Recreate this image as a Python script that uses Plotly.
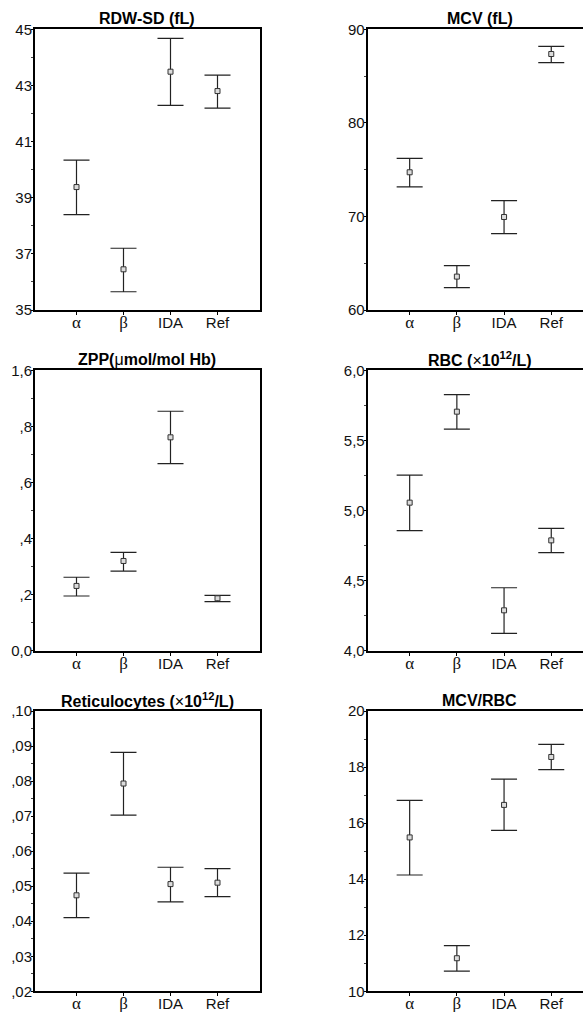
import plotly.graph_objects as go

# ---------------- data ----------------
groups = ["α", "β", "IDA", "Ref"]

rdw_mean = [39.38, 36.45, 43.49, 42.80]
rdw_upper = [40.34, 37.20, 44.68, 43.37]
rdw_lower = [38.40, 35.65, 42.29, 42.19]

mcv_mean = [74.72, 63.57, 69.94, 87.36]
mcv_upper = [76.21, 64.74, 71.69, 88.18]
mcv_lower = [73.15, 62.39, 68.16, 86.44]

zpp_mean = [0.231, 0.320, 0.761, 0.187]
zpp_upper = [0.262, 0.351, 0.854, 0.197]
zpp_lower = [0.195, 0.284, 0.667, 0.175]

rbc_mean = [5.056, 5.705, 4.288, 4.787]
rbc_upper = [5.253, 5.826, 4.449, 4.873]
rbc_lower = [4.856, 5.581, 4.124, 4.699]

ret_mean = [0.0474, 0.0793, 0.0506, 0.0510]
ret_upper = [0.0537, 0.0882, 0.0554, 0.0550]
ret_lower = [0.0410, 0.0703, 0.0455, 0.0470]

ratio_mean = [15.49, 11.18, 16.65, 18.36]
ratio_upper = [16.81, 11.63, 17.57, 18.81]
ratio_lower = [14.15, 10.72, 15.74, 17.91]

titles = ["RDW-SD (fL)", "MCV (fL)", "ZPP(<span style=\"font-weight:normal\">μ</span>mol/mol Hb)",
          "RBC (<span style=\"font-weight:normal\">×</span>10<sup>12</sup>/L)",
          "Reticulocytes (<span style=\"font-weight:normal\">×</span>10<sup>12</sup>/L)", "MCV/RBC"]

rdw_ticks = [35, 37, 39, 41, 43, 45]
rdw_ticktext = ["35", "37", "39", "41", "43", "45"]
mcv_ticks = [60, 70, 80, 90]
mcv_ticktext = ["60", "70", "80", "90"]
zpp_ticks = [0.0, 0.2, 0.4, 0.6, 0.8, 1.0]
zpp_ticktext = ["0,0", ",2", ",4", ",6", ",8", "1,6"]
rbc_ticks = [4.0, 4.5, 5.0, 5.5, 6.0]
rbc_ticktext = ["4,0", "4,5", "5,0", "5,5", "6,0"]
ret_ticks = [0.02, 0.03, 0.04, 0.05, 0.06, 0.07, 0.08, 0.09, 0.10]
ret_ticktext = [",02", ",03", ",04", ",05", ",06", ",07", ",08", ",09", ",10"]
ratio_ticks = [10, 12, 14, 16, 18, 20]
ratio_ticktext = ["10", "12", "14", "16", "18", "20"]

# ---------------- layout geometry ----------------
W, H = 583, 1012
LEFT_X = (35, 259.5)
RIGHT_X = (367.7, 583)
ROWS_Y = [(29.3, 310), (370.3, 650.7), (711, 991.3)]

panels = [
    dict(mean=rdw_mean, up=rdw_upper, lo=rdw_lower, rng=[35, 45], tv=rdw_ticks, tt=rdw_ticktext, minor=1, col=0, row=0),
    dict(mean=mcv_mean, up=mcv_upper, lo=mcv_lower, rng=[60, 90], tv=mcv_ticks, tt=mcv_ticktext, minor=5, col=1, row=0),
    dict(mean=zpp_mean, up=zpp_upper, lo=zpp_lower, rng=[0, 1.0], tv=zpp_ticks, tt=zpp_ticktext, minor=0.1, col=0, row=1),
    dict(mean=rbc_mean, up=rbc_upper, lo=rbc_lower, rng=[4, 6], tv=rbc_ticks, tt=rbc_ticktext, minor=0.25, col=1, row=1),
    dict(mean=ret_mean, up=ret_upper, lo=ret_lower, rng=[0.02, 0.10], tv=ret_ticks, tt=ret_ticktext, minor=0.005, col=0, row=2),
    dict(mean=ratio_mean, up=ratio_upper, lo=ratio_lower, rng=[10, 20], tv=ratio_ticks, tt=ratio_ticktext, minor=1, col=1, row=2),
]

xticktext = ['<span style="font-family:\'Liberation Serif\';font-size:17px">α</span>',
             '<span style="font-family:\'Liberation Serif\';font-size:17px">β</span>',
             'IDA', 'Ref']

fig = go.Figure()
layout = {}
annotations = []
FONT = "Liberation Sans, Arial, sans-serif"

for i, p in enumerate(panels):
    n = i + 1
    xa = "xaxis" if n == 1 else f"xaxis{n}"
    ya = "yaxis" if n == 1 else f"yaxis{n}"
    xr = "x" if n == 1 else f"x{n}"
    yr = "y" if n == 1 else f"y{n}"
    x0, x1 = LEFT_X if p["col"] == 0 else RIGHT_X
    y0, y1 = ROWS_Y[p["row"]]
    xs = list(range(len(groups)))
    err_plus = [u - m for u, m in zip(p["up"], p["mean"])]
    err_minus = [m - l for m, l in zip(p["mean"], p["lo"])]
    fig.add_trace(go.Scatter(
        x=xs, y=p["mean"], mode="markers", xaxis=xr, yaxis=yr,
        marker=dict(symbol="square", size=5, color="#dcdcdc", line=dict(color="#333333", width=1)),
        error_y=dict(type="data", symmetric=False, array=err_plus, arrayminus=err_minus,
                     color="#222222", thickness=1.2, width=13),
        showlegend=False, hoverinfo="skip",
    ))
    if p["col"] == 0:
        xrange = [-0.883, -0.883 + (x1 - x0) / 47.0]
    else:
        xrange = [-0.889, -0.889 + (x1 - x0) / 47.2]
    layout[xa] = dict(
        domain=[x0 / W, x1 / W], anchor=yr, range=xrange, automargin=False,
        tickmode="array", tickvals=xs, ticktext=xticktext,
        ticks="outside", ticklen=3, tickcolor="#000", tickwidth=1,
        showline=True, linecolor="#000", linewidth=2, mirror=True,
        showgrid=False, zeroline=False, fixedrange=True,
        tickfont=dict(family=FONT, size=15, color="#111"),
        ticklabelstandoff=-5,
    )
    layout[ya] = dict(
        domain=[1 - y1 / H, 1 - y0 / H], anchor=xr, range=p["rng"], automargin=False,
        tickmode="array", tickvals=p["tv"], ticktext=p["tt"],
        ticks="outside", ticklen=2, tickcolor="#000", tickwidth=1,
        minor=dict(ticks="outside", ticklen=2, tickcolor="#444", tickwidth=1,
                   tickmode="linear", tick0=p["rng"][0], dtick=p["minor"], showgrid=False),
        showline=True, linecolor="#000", linewidth=2, mirror=(p["col"] == 0),
        showgrid=False, zeroline=False, fixedrange=True,
        tickfont=dict(family=FONT, size=15, color="#111"),
        ticklabelstandoff=-4,
    )
    annotations.append(dict(
        text=titles[i], xref="paper", yref="paper",
        x=((x0 + x0 + 224.5) / 2) / W,
        y=1 - (y0 - 11) / H, xanchor="center", yanchor="middle", showarrow=False,
        font=dict(family=FONT, size=16, color="#000", weight="bold"),
    ))

fig.update_layout(
    width=W, height=H, margin=dict(l=0, r=0, t=0, b=0, autoexpand=False),
    paper_bgcolor="white", plot_bgcolor="white",
    annotations=annotations, **layout,
)

fig.write_html("out.html", config={"displayModeBar": False},
               post_script="document.body.style.margin='0';document.body.style.overflow='hidden';")
